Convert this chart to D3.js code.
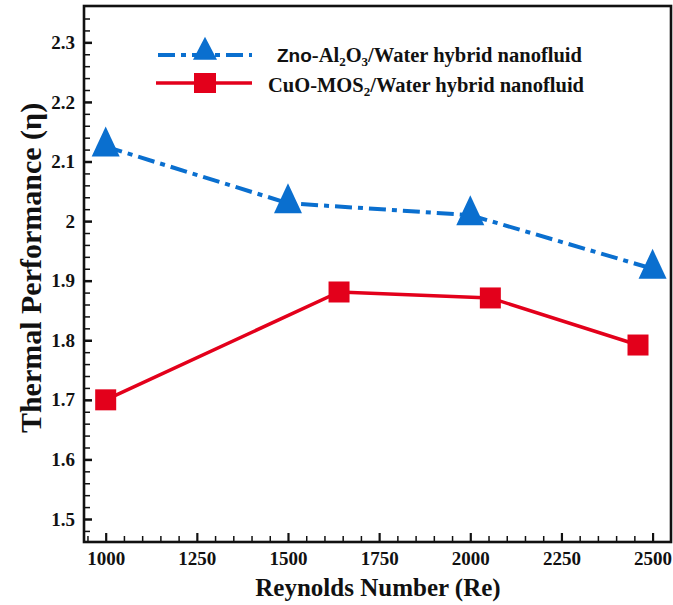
<!DOCTYPE html>
<html>
<head>
<meta charset="utf-8">
<script src="https://cdn.jsdelivr.net/npm/d3@7"></script>
<style>
  body { margin: 0; background: #fff; }
  svg { display: block; }
  .tick text { font-family: "Liberation Serif", "Times New Roman", serif; font-weight: bold; font-size: 19px; fill: #111; }
</style>
</head>
<body>
<svg id="chart" width="673" height="605"></svg>
<script>
// data
var reZno = [1000, 1500, 2000, 2500];
var etaZno = [2.125, 2.03, 2.01, 1.92];
var reCuo = [1000, 1640, 2055, 2460];
var etaCuo = [1.70, 1.881, 1.871, 1.792];

var xTickLabels = [1000, 1250, 1500, 1750, 2000, 2250, 2500];
var yTickLabels = [1.5, 1.6, 1.7, 1.8, 1.9, 2, 2.1, 2.2, 2.3];

var blue = "#0a6fcf";
var red = "#e3001b";

var svg = d3.select("#chart");

var plotLeft = 84, plotRight = 671, plotTop = 6, plotBottom = 542;

var x = d3.scaleLinear().domain([940.5, 2550.5]).range([plotLeft, plotRight]);
var y = d3.scaleLinear().domain([1.4614, 2.361]).range([plotBottom, plotTop]);

// minor ticks
var xMinor = d3.range(950, 2550, 50).filter(v => xTickLabels.indexOf(v) < 0);
var yMinor = d3.range(74, 118, 1).map(v => v / 50).filter(v => yTickLabels.indexOf(v) < 0);

svg.append("g")
    .attr("transform", "translate(0," + plotBottom + ")")
    .call(d3.axisBottom(x).tickValues(xMinor).tickSize(-6).tickFormat(""))
    .call(g => g.select(".domain").remove())
    .selectAll("line").attr("stroke", "#111").attr("stroke-width", 1.5);

svg.append("g")
    .attr("transform", "translate(" + plotLeft + ",0)")
    .call(d3.axisLeft(y).tickValues(yMinor).tickSize(-6).tickFormat(""))
    .call(g => g.select(".domain").remove())
    .selectAll("line").attr("stroke", "#111").attr("stroke-width", 1.5);

// major ticks + labels
var xAxis = svg.append("g")
    .attr("transform", "translate(0," + plotBottom + ")")
    .call(d3.axisBottom(x).tickValues(xTickLabels).tickSize(-9).tickPadding(10).tickFormat(d3.format("d")));
xAxis.select(".domain").remove();
xAxis.selectAll("line").attr("stroke", "#111").attr("stroke-width", 2.2);

var yAxis = svg.append("g")
    .attr("transform", "translate(" + plotLeft + ",0)")
    .call(d3.axisLeft(y).tickValues(yTickLabels).tickSize(-8).tickPadding(9).tickFormat(d => String(d)));
yAxis.select(".domain").remove();
yAxis.selectAll("line").attr("stroke", "#111").attr("stroke-width", 2.5);

// frame
svg.append("rect")
    .attr("x", plotLeft).attr("y", plotTop)
    .attr("width", plotRight - plotLeft).attr("height", plotBottom - plotTop)
    .attr("fill", "none").attr("stroke", "#111").attr("stroke-width", 2.6);

// lines
var zno = reZno.map((r, i) => ({ re: r, eta: etaZno[i] }));
var cuo = reCuo.map((r, i) => ({ re: r, eta: etaCuo[i] }));

var line = d3.line().x(d => x(d.re)).y(d => y(d.eta));

svg.append("path")
    .datum(zno)
    .attr("d", line)
    .attr("fill", "none")
    .attr("stroke", blue)
    .attr("stroke-width", 4)
    .attr("stroke-dasharray", "17,6,5,6");

svg.append("path")
    .datum(cuo)
    .attr("d", line)
    .attr("fill", "none")
    .attr("stroke", red)
    .attr("stroke-width", 3.5);

function triPath(w, h) {
    return "M0," + (-2 * h / 3) + "L" + (w / 2) + "," + (h / 3) + "L" + (-w / 2) + "," + (h / 3) + "Z";
}

svg.selectAll(".tri")
    .data(zno)
    .join("path")
    .attr("class", "tri")
    .attr("d", triPath(28, 30))
    .attr("transform", d => "translate(" + x(d.re) + "," + y(d.eta) + ")")
    .attr("fill", blue);

svg.selectAll(".sq")
    .data(cuo)
    .join("rect")
    .attr("class", "sq")
    .attr("x", d => x(d.re) - 10.5)
    .attr("y", d => y(d.eta) - 10.5)
    .attr("width", 21)
    .attr("height", 21)
    .attr("fill", red);

// legend
var legend = svg.append("g");
legend.append("line")
    .attr("x1", 158).attr("x2", 252).attr("y1", 55).attr("y2", 55)
    .attr("stroke", blue).attr("stroke-width", 4)
    .attr("stroke-dasharray", "17,6,5,6");
legend.append("path")
    .attr("d", triPath(24, 23))
    .attr("transform", "translate(205,52)")
    .attr("fill", blue);
legend.append("line")
    .attr("x1", 156).attr("x2", 252).attr("y1", 83).attr("y2", 83)
    .attr("stroke", red).attr("stroke-width", 3.5);
legend.append("rect")
    .attr("x", 194).attr("y", 73).attr("width", 22).attr("height", 20)
    .attr("fill", red);

var serif = "'Liberation Serif', 'Times New Roman', serif";

var t1 = legend.append("text")
    .attr("x", 277).attr("y", 62)
    .attr("font-family", serif).attr("font-weight", "bold").attr("font-size", 20.5)
    .attr("fill", "#111");
t1.append("tspan").attr("font-family", "'Liberation Sans', Arial, sans-serif").attr("font-size", 19).text("Zno");
t1.append("tspan").text("-Al");
t1.append("tspan").attr("font-size", 13).attr("dy", 4).text("2");
t1.append("tspan").attr("dy", -4).text("O");
t1.append("tspan").attr("font-size", 13).attr("dy", 4).text("3");
t1.append("tspan").attr("dy", -4).text("/Water hybrid nanofluid");

var t2 = legend.append("text")
    .attr("x", 268).attr("y", 92)
    .attr("font-family", serif).attr("font-weight", "bold").attr("font-size", 20.5)
    .attr("fill", "#111");
t2.append("tspan").text("CuO-MOS");
t2.append("tspan").attr("font-size", 13).attr("dy", 4).text("2");
t2.append("tspan").attr("dy", -4).text("/Water hybrid nanofluid");

// axis titles
svg.append("text")
    .attr("x", 378)
    .attr("y", 596)
    .attr("text-anchor", "middle")
    .attr("font-family", serif).attr("font-weight", "bold").attr("font-size", 25)
    .attr("fill", "#111")
    .text("Reynolds Number (Re)");

svg.append("text")
    .attr("transform", "translate(41,268) rotate(-90)")
    .attr("text-anchor", "middle")
    .attr("font-family", serif).attr("font-weight", "bold").attr("font-size", 30)
    .attr("fill", "#111")
    .text("Thermal Performance (η)");
</script>
</body>
</html>
